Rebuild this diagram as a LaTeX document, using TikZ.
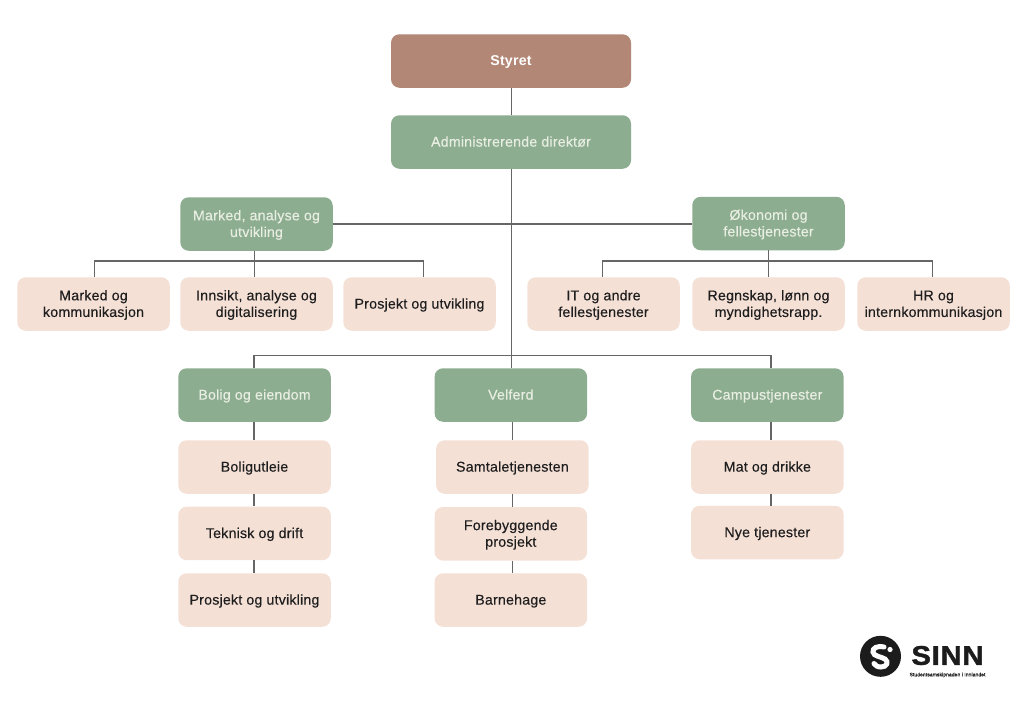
\documentclass[tikz,border=0pt]{standalone}
\usepackage{fontspec}
\setmainfont[LetterSpace=1.4,UprightFeatures={FakeBold=0.25}]{Liberation Sans}
\newfontfamily\logofont[LetterSpace=3,FakeStretch=1.08,BoldFeatures={FakeBold=1.5}]{Liberation Sans}
\definecolor{rosebox}{HTML}{B28776}
\definecolor{greenbox}{HTML}{8CAD90}
\definecolor{peachbox}{HTML}{F5E0D6}
\definecolor{linecol}{HTML}{666666}
\definecolor{greentext}{HTML}{E9EEE2}
\definecolor{darktext}{HTML}{1E1E1E}
\definecolor{logoblack}{HTML}{1C1C1C}
\newcommand\tx[1]{\raisebox{-1.3pt}[\height][\depth]{\begin{tabular}{@{}c@{}}#1\end{tabular}}}
\tikzset{
  basebox/.style={rounded corners=8.5pt,minimum width=152.5pt,minimum height=53.5pt,inner sep=0pt,font=\fontsize{14.2}{16.6}\selectfont},
  rosenode/.style={basebox,fill=rosebox,text=white,minimum width=240pt,font=\fontsize{14.2}{16.6}\selectfont\bfseries},
  greennode/.style={basebox,fill=greenbox,text=greentext},
  wide/.style={minimum width=240pt},
  peachnode/.style={basebox,fill=peachbox,text=darktext},
  link/.style={draw=linecol,line width=1.2pt}
}
\begin{document}
\begin{tikzpicture}[x=1pt,y=-1pt]
\useasboundingbox (0,0) rectangle (1024,724);
\fill[white] (0,0) rectangle (1024,724);
\node[rosenode] (styret) at (511,61) {\tx{Styret}};
\node[greennode,wide] (admin) at (511,142) {\tx{Administrerende direktør}};
\node[greennode] (marked) at (256.5,224) {\tx{Marked, analyse og\\utvikling}};
\node[greennode] (okonomi) at (768.5,223.5) {\tx{Økonomi og\\fellestjenester}};
\node[peachnode] (mk) at (93.5,304) {\tx{Marked og\\kommunikasjon}};
\node[peachnode] (ia) at (256.5,304) {\tx{Innsikt, analyse og\\digitalisering}};
\node[peachnode] (pu1) at (419.5,304) {\tx{Prosjekt og utvikling}};
\node[peachnode] (it) at (603.5,304) {\tx{IT og andre\\fellestjenester}};
\node[peachnode] (rl) at (768.5,304) {\tx{Regnskap, lønn og\\myndighetsrapp.}};
\node[peachnode] (hr) at (933.5,304) {\tx{HR og\\internkommunikasjon}};
\node[greennode] (bolig) at (254.5,395) {\tx{Bolig og eiendom}};
\node[greennode] (velferd) at (510.8,395) {\tx{Velferd}};
\node[greennode] (campus) at (767.3,395) {\tx{Campustjenester}};
\node[peachnode] (bu) at (254.5,467) {\tx{Boligutleie}};
\node[peachnode] (td) at (254.5,533.4) {\tx{Teknisk og drift}};
\node[peachnode] (pu2) at (254.5,600) {\tx{Prosjekt og utvikling}};
\node[peachnode] (sam) at (512.4,467) {\tx{Samtaletjenesten}};
\node[peachnode] (fp) at (510.8,533.8) {\tx{Forebyggende\\prosjekt}};
\node[peachnode] (bh) at (510.8,600) {\tx{Barnehage}};
\node[peachnode] (mat) at (767.3,467) {\tx{Mat og drikke}};
\node[peachnode] (nye) at (767.3,532.5) {\tx{Nye tjenester}};
\coordinate (trunk) at (511.3,355.5);
\coordinate (stemV) at (512.5,430);
\coordinate (stemB) at (254,355.5);
\coordinate (stemC) at (771,355.5);
\coordinate (busLa) at (94.5,261);
\coordinate (busL) at (254.3,261);
\coordinate (busLb) at (423.3,261);
\coordinate (busRa) at (602.8,261);
\coordinate (busR) at (768.5,261);
\coordinate (busRb) at (932.3,261);
\begin{scope}[link]
\draw (styret.south -| trunk) -- (admin.north -| trunk);
\draw (admin.south -| trunk) -- (velferd.north -| trunk);
\draw (marked.east) -- (okonomi.west |- marked.east);
\draw (bolig.north -| stemB) -- (stemB) -- (stemC) -- (campus.north -| stemC);
\draw (marked.south -| busL) -- (ia.north -| busL);
\draw (mk.north -| busLa) -- (busLa) -- (busLb) -- (pu1.north -| busLb);
\draw (okonomi.south -| busR) -- (rl.north -| busR);
\draw (it.north -| busRa) -- (busRa) -- (busRb) -- (hr.north -| busRb);
\draw (bolig.south -| stemB) -- (bu.north -| stemB);
\draw (bu.south -| stemB) -- (td.north -| stemB);
\draw (td.south -| stemB) -- (pu2.north -| stemB);
\draw (velferd.south -| stemV) -- (sam.north -| stemV);
\draw (sam.south -| stemV) -- (fp.north -| stemV);
\draw (fp.south -| stemV) -- (bh.north -| stemV);
\draw (campus.south -| stemC) -- (mat.north -| stemC);
\draw (mat.south -| stemC) -- (nye.north -| stemC);
\end{scope}
% logo
\fill[logoblack] (880.5,656.3) circle (20.5);
\draw[white,line width=5pt,line cap=round] (884,647) .. controls (877,645.5) and (872.5,648) .. (873,652) .. controls (873.5,656.5) and (881,656.5) .. (885,659) .. controls (889,662) and (887,667) .. (881,667) .. controls (877.5,667) and (875,665.5) .. (874,663.5);
\fill[white] (890,649.5) circle (2.6);
\node[font={\logofont\bfseries\fontsize{27}{27}\selectfont},text=logoblack,inner sep=0pt] (sinn) at (947.5,655.5) {SINN};
\node[font=\fontsize{5}{6}\selectfont,text=logoblack,inner sep=0pt] (tag) at (947.5,675) {Studentsamskipnaden i Innlandet};
\end{tikzpicture}
\end{document}
